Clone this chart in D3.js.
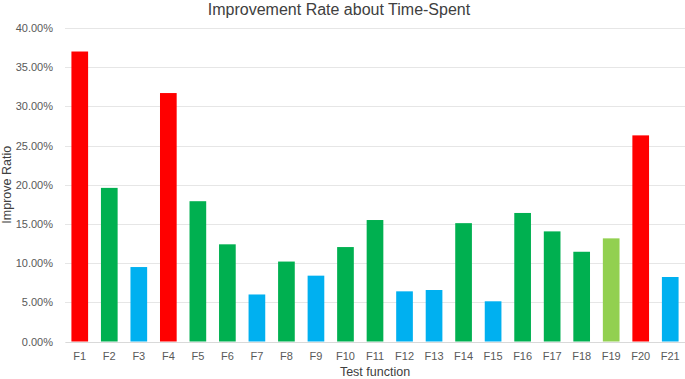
<!DOCTYPE html>
<html>
<head>
<meta charset="utf-8">
<script src="https://cdn.jsdelivr.net/npm/d3@7"></script>
<style>
  html, body { margin: 0; padding: 0; background: #fff; }
  svg text { font-family: "Liberation Sans", Arial, sans-serif; }
</style>
</head>
<body>
<div id="chart"></div>
<script>
// Test functions on the x axis
const categories = ['F1', 'F2', 'F3', 'F4', 'F5', 'F6', 'F7', 'F8', 'F9', 'F10', 'F11',
  'F12', 'F13', 'F14', 'F15', 'F16', 'F17', 'F18', 'F19', 'F20', 'F21'];

// Improve ratio
const ratios = [0.370, 0.196, 0.095, 0.317, 0.179, 0.124, 0.060, 0.102, 0.084, 0.1205, 0.155,
  0.064, 0.0657, 0.151, 0.0513, 0.164, 0.1405, 0.1145, 0.1316, 0.263, 0.0823];

// colour group of each bar
const groups = ['hi', 'mid', 'low', 'hi', 'mid', 'mid', 'low', 'mid', 'low', 'mid', 'mid',
  'low', 'low', 'mid', 'low', 'mid', 'mid', 'mid', 'lime', 'hi', 'low'];

const yTicks = [0, 0.05, 0.10, 0.15, 0.20, 0.25, 0.30, 0.35, 0.40];

const groupColor = { hi: '#FF0000', mid: '#00B050', low: '#00B0F0', lime: '#92D050' };

const W = 685, H = 379;
const margin = { top: 28, right: 0, bottom: 37.5, left: 65 };

const svg = d3.select('#chart').append('svg')
  .attr('width', W).attr('height', H);

const data = categories.map((c, i) => ({ name: c, value: ratios[i], group: groups[i] }));

const x = d3.scaleBand().domain(categories)
  .range([margin.left, W - margin.right])
  .paddingInner(0.435).paddingOuter(0.2175);

const y = d3.scaleLinear().domain([0, 0.40])
  .range([H - margin.bottom, margin.top]);

// gridlines + y labels
const yAxis = d3.axisLeft(y).tickValues(yTicks)
  .tickFormat(d3.format('.2%'))
  .tickSize(-(W - margin.left - margin.right)).tickPadding(12);

const gy = svg.append('g')
  .attr('transform', `translate(${margin.left},0)`)
  .call(yAxis);
gy.select('.domain').remove();
gy.selectAll('line').attr('stroke', '#E6E6E6').attr('stroke-width', 1)
  .attr('shape-rendering', 'crispEdges');
gy.selectAll('text').attr('fill', '#595959').attr('font-size', 11);

// bars
svg.append('g').selectAll('rect')
  .data(data)
  .enter()
  .append('rect')
  .attr('x', d => x(d.name))
  .attr('y', d => y(d.value))
  .attr('width', x.bandwidth())
  .attr('height', d => y(0) - y(d.value))
  .attr('fill', d => groupColor[d.group]);

// x axis
const xAxis = d3.axisBottom(x).tickSize(0).tickPadding(11);
const gx = svg.append('g')
  .attr('transform', `translate(0,${y(0)})`)
  .call(xAxis);
gx.select('.domain').attr('stroke', '#D9D9D9').attr('shape-rendering', 'crispEdges');
gx.selectAll('text').attr('fill', '#595959').attr('font-size', 11);

// titles
svg.append('text')
  .attr('x', 339).attr('y', 14.5)
  .attr('text-anchor', 'middle')
  .attr('font-size', 16).attr('fill', '#404040')
  .text('Improvement Rate about Time-Spent');

svg.append('text')
  .attr('x', (margin.left + W - margin.right) / 2).attr('y', 376)
  .attr('text-anchor', 'middle')
  .attr('font-size', 12.5).attr('fill', '#404040')
  .text('Test function');

svg.append('text')
  .attr('transform', `translate(11,${(y(0) + y(0.40)) / 2}) rotate(-90)`)
  .attr('text-anchor', 'middle')
  .attr('font-size', 12.5).attr('fill', '#404040')
  .text('Improve Ratio');
</script>
</body>
</html>
